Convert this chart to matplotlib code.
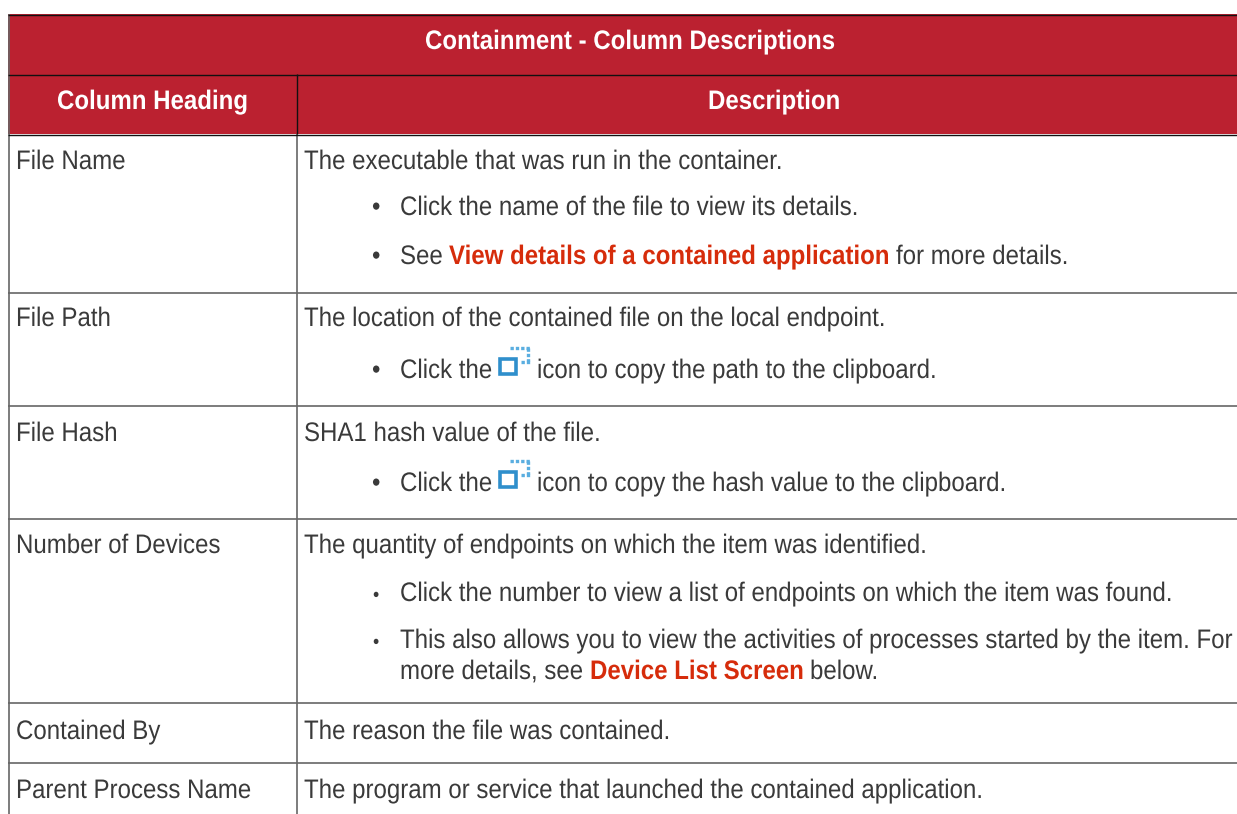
import matplotlib
matplotlib.use("Agg")
import matplotlib.pyplot as plt
import matplotlib.patheffects as pe
from matplotlib.patches import Rectangle
from matplotlib.text import Text
from matplotlib.transforms import Affine2D, Bbox

plt.rcParams["font.family"] = ["Liberation Sans", "DejaVu Sans"]
plt.rcParams["lines.solid_capstyle"] = "butt"

TITLE = "Containment - Column Descriptions"
HEADINGS = ["Column Heading", "Description"]
ROW_NAMES = ["File Name", "File Path", "File Hash", "Number of Devices",
             "Contained By", "Parent Process Name"]
NAME_Y = [169, 326, 441, 553, 739, 798]
ROW_LINES = [292, 405, 518, 702, 762]

# (x, baseline y, text, weight, colour key)
SEGMENTS = [
    (304, 169, "The executable that was run in the container.", "normal", "body"),
    (400, 215, "Click the name of the file to view its details.", "normal", "body"),
    (400, 264, "See", "normal", "body"),
    (449, 264, "View details of a contained application", "bold", "link"),
    (896, 264, "for more details.", "normal", "body"),
    (304, 326, "The location of the contained file on the local endpoint.", "normal", "body"),
    (400, 378, "Click the", "normal", "body"),
    (537, 378, "icon to copy the path to the clipboard.", "normal", "body"),
    (304, 441, "SHA1 hash value of the file.", "normal", "body"),
    (400, 491, "Click the", "normal", "body"),
    (537, 491, "icon to copy the hash value to the clipboard.", "normal", "body"),
    (304, 553, "The quantity of endpoints on which the item was identified.", "normal", "body"),
    (400, 601, "Click the number to view a list of endpoints on which the item was found.", "normal", "body"),
    (400, 648, "This also allows you to view the activities of processes started by the item. For", "normal", "body"),
    (400, 679, "more details, see", "normal", "body"),
    (590, 679, "Device List Screen", "bold", "link"),
    (810, 679, "below.", "normal", "body"),
    (304, 739, "The reason the file was contained.", "normal", "body"),
    (304, 798, "The program or service that launched the contained application.", "normal", "body"),
]
BIG_BULLETS = [(372, 215), (372, 264), (372, 378), (372, 491)]
SMALL_BULLETS = [(373, 601), (373, 648)]
ICONS = [(498, 346), (498, 459)]

RED = "#bb2130"
COLOURS = {"body": "#3a3a3a", "link": "#d62c0b"}
FS = 19.3
SQUEEZE = 0.897  # reference text is narrower than Liberation Sans at this height


class _Squeeze(pe.AbstractPathEffect):
    def draw_path(self, renderer, gc, tpath, affine, rgbFace=None):
        m = affine.get_matrix().copy()
        m[0, :2] *= SQUEEZE
        renderer.draw_path(gc, tpath, Affine2D(m), rgbFace)


class NarrowText(Text):
    def get_window_extent(self, renderer=None, dpi=None):
        bb = super().get_window_extent(renderer, dpi)
        return Bbox.from_extents(bb.x0, bb.y0, bb.x0 + bb.width * SQUEEZE, bb.y1)


def put(ax, x, y, s, **kw):
    t = NarrowText(x, y, s, fontsize=kw.pop("fontsize", FS), va="baseline",
                   path_effects=[_Squeeze()], **kw)
    ax.add_artist(t)
    return t


fig = plt.figure(figsize=(12.37, 8.14), dpi=100)
ax = fig.add_axes([0, 0, 1, 1])
ax.set_xlim(0, 1237)
ax.set_ylim(814, 0)
ax.axis("off")

ax.add_patch(Rectangle((8, 14), 1229, 120, fc=RED, ec="none"))
for y in ROW_LINES:
    ax.plot([8, 1237], [y + 0.5, y + 0.5], color="#666666", lw=1.2)
ax.plot([8.5, 8.5], [14, 814], color="#666666", lw=1.2)
ax.plot([296.5, 296.5], [134, 814], color="#666666", lw=1.2)
for y in [14.5, 74.5, 134.5]:
    ax.plot([8, 1237], [y, y], color="#111111", lw=1.0)
ax.plot([296.5, 296.5], [74, 134], color="#111111", lw=1.0)

put(ax, 425, 49, TITLE, color="white", fontweight="bold")
put(ax, 57, 109, HEADINGS[0], color="white", fontweight="bold")
put(ax, 708, 109, HEADINGS[1], color="white", fontweight="bold")

for name, y in zip(ROW_NAMES, NAME_Y):
    put(ax, 16, y, name, color=COLOURS["body"])
for x, y, s, weight, key in SEGMENTS:
    put(ax, x, y, s, color=COLOURS[key], fontweight=weight)
for x, y in BIG_BULLETS:
    put(ax, x, y, "•", color=COLOURS["body"])
for x, y in SMALL_BULLETS:
    put(ax, x, y, "•", color=COLOURS["body"], fontsize=FS - 5)

dots = (0, (1, 0.6))
for x, y in ICONS:
    ax.add_patch(Rectangle((x + 2, y + 13), 16, 15, fc="none", ec="#2f8fcc", lw=2.6))
    ax.plot([x + 12, x + 32], [y + 2, y + 2], color="#5aaee0", lw=2.4, ls=dots)
    ax.plot([x + 30, x + 30], [y + 2, y + 15], color="#5aaee0", lw=2.4, ls=dots)
    ax.plot([x + 23, x + 32], [y + 16, y + 16], color="#5aaee0", lw=2.4, ls=dots)

fig.savefig("out.png", dpi=100)
